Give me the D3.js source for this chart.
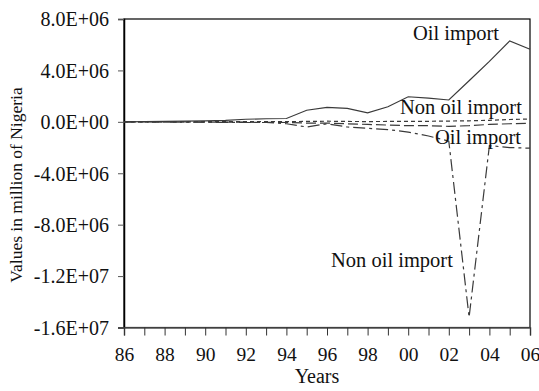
<!DOCTYPE html>
<meta charset="utf-8">
<style>
body { margin: 0; background: #fff; }
</style>
<svg width="539" height="391"></svg>
<script src="https://d3js.org/d3.v7.min.js"></script>
<script>

var years = d3.range(1986, 2007);

// values (x 1e6)
var oilPos = [0, 0.01, 0.03, 0.05, 0.08, 0.12, 0.2, 0.24, 0.26, 0.9, 1.12, 1.05, 0.7, 1.17, 1.95, 1.85, 1.7, 3.2, 4.7, 6.3, 5.65];
var nonOilUp = [0, 0, 0, 0, 0.01, 0.01, 0.02, 0.02, 0.02, 0.03, 0.05, 0.03, 0.02, 0.03, 0.03, 0.04, 0.06, 0.08, 0.12, 0.18, 0.22];
var oilNeg = [0, 0, -0.01, -0.01, -0.02, -0.03, -0.03, -0.04, -0.05, -0.1, -0.1, -0.15, -0.2, -0.25, -0.3, -0.3, -0.35, -0.3, -0.2, -0.15, -0.12];
var nonOilSpike = [0, -0.01, -0.02, -0.02, -0.03, -0.04, -0.05, -0.05, -0.15, -0.4, -0.15, -0.4, -0.5, -0.6, -0.8, -1.1, -1.5, -15.2, -1.85, -2.0, -2.05];

var yTicks = [8e6, 4e6, 0, -4e6, -8e6, -1.2e7, -1.6e7];
var yTickLabels = ["8.0E+06", "4.0E+06", "0.0E+00", "-4.0E+06", "-8.0E+06", "-1.2E+07", "-1.6E+07"];

var series = [
  { vals: oilPos, dash: null },
  { vals: nonOilUp, dash: "4,3" },
  { vals: oilNeg, dash: "10,4" },
  { vals: nonOilSpike, dash: "12,4,3,4" }
];

var labels = [
  { text: "Oil import", x: 413, y: 40 },
  { text: "Non oil import", x: 400, y: 114 },
  { text: "Oil import", x: 435, y: 144 },
  { text: "Non oil import", x: 331, y: 267 }
];

var FONT = "'Liberation Serif', 'DejaVu Serif', serif";

var svg = d3.select("svg"),
    mLeft = 124, mRight = 530, mTop = 19, mBottom = 327.5;

var x = d3.scaleLinear().domain([1986, 2006]).range([mLeft, mRight]);
var y = d3.scaleLinear().domain([-1.6e7, 8e6]).range([mBottom, mTop]);

function styleText(sel, size) {
  sel.style("font-family", FONT).style("font-size", size + "px").attr("fill", "#111");
}

// frame
svg.append("rect")
    .attr("x", mLeft).attr("y", mTop)
    .attr("width", mRight - mLeft).attr("height", mBottom - mTop)
    .attr("fill", "none").attr("stroke", "#000").attr("stroke-width", 1.2);

// y axis
var yAxis = svg.append("g")
    .attr("transform", "translate(" + mLeft + ",0)")
    .call(d3.axisLeft(y).tickValues(yTicks).tickSize(6).tickPadding(9)
      .tickFormat(function(d, i) { return yTickLabels[i]; }));
yAxis.select(".domain").attr("stroke", "#000").attr("stroke-width", 1.5);
yAxis.selectAll(".tick line").attr("stroke", "#555");
yAxis.selectAll(".tick text").attr("dy", "0.34em").call(styleText, 20);

// x axis
var xAxis = svg.append("g")
    .attr("transform", "translate(0," + mBottom + ")")
    .call(d3.axisBottom(x).tickValues(years).tickSize(8).tickPadding(12)
      .tickFormat(function(d) { return d % 2 === 0 ? d3.format("02d")(d % 100) : ""; }));
xAxis.select(".domain").attr("stroke", "#555").attr("stroke-width", 1.5);
xAxis.selectAll(".tick line").attr("stroke", "#333");
xAxis.selectAll(".tick text").call(styleText, 19.5);

// lines
var line = d3.line()
    .x(function(d, i) { return x(years[i]); })
    .y(function(d) { return y(d * 1e6); });

svg.selectAll("path.series")
  .data(series)
  .enter().append("path")
    .attr("class", "series")
    .attr("d", function(s) { return line(s.vals); })
    .attr("fill", "none")
    .attr("stroke", "#3a3a3a")
    .attr("stroke-width", 1.2)
    .attr("stroke-dasharray", function(s) { return s.dash; });

// in-plot labels
svg.selectAll("text.inlbl")
  .data(labels)
  .enter().append("text")
    .attr("class", "inlbl")
    .attr("x", function(d) { return d.x; })
    .attr("y", function(d) { return d.y; })
    .text(function(d) { return d.text; })
    .call(styleText, 20.5);

// axis titles
svg.append("text")
    .attr("x", 317).attr("y", 383)
    .attr("text-anchor", "middle")
    .text("Years")
    .call(styleText, 20);

svg.append("text")
    .attr("transform", "translate(22,185) rotate(-90)")
    .attr("text-anchor", "middle")
    .text("Values in million of Nigeria")
    .call(styleText, 17.5);

</script>
